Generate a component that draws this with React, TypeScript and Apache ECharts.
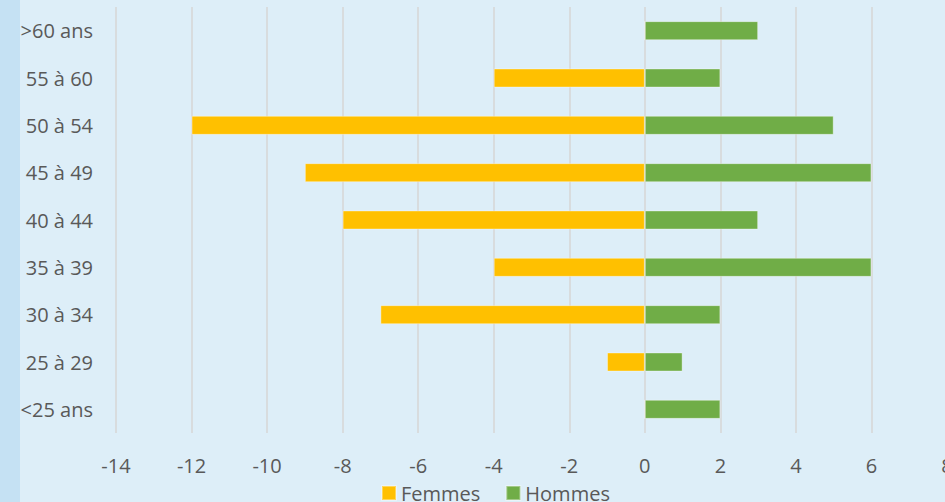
import React, { useEffect, useRef } from "react";
import * as echarts from "echarts";

const categories = [">60 ans", "55 à 60", "50 à 54", "45 à 49", "40 à 44", "35 à 39", "30 à 34", "25 à 29", "<25 ans"];
const femmes = [0, -4, -12, -9, -8, -4, -7, -1, 0];
const hommes = [3, 2, 5, 6, 3, 6, 2, 1, 2];
const xMin = -14;
const xMax = 8;
const xInterval = 2;

const FONT = "'Open Sans', 'Noto Sans', sans-serif";
const TEXT = "#595959";

export default function App() {
  const ref = useRef<HTMLDivElement>(null);
  useEffect(() => {
    document.body.style.margin = "0";
    if (!ref.current) return;
    const chart = echarts.init(ref.current, undefined, { renderer: "svg" });
    chart.setOption({
      animation: false,
      backgroundColor: "#DDEEF8",
      textStyle: { fontFamily: FONT },
      graphic: [
        {
          type: "rect",
          left: 0,
          top: 0,
          shape: { x: 0, y: 0, width: 20, height: 502 },
          style: { fill: "#C5E1F3" },
          z: -1,
        },
      ],
      grid: { left: 116, top: 7, width: 831, height: 426, containLabel: false, outerBoundsMode: "none" },
      legend: {
        data: ["Femmes", "Hommes"],
        left: 381,
        top: 483,
        itemWidth: 14,
        itemHeight: 14,
        itemGap: 25,
        icon: "rect",
        textStyle: { color: TEXT, fontSize: 20, fontFamily: FONT, padding: [0, 0, 0, 0] },
        padding: 0,
      },
      xAxis: {
        type: "value",
        min: xMin,
        max: xMax,
        interval: xInterval,
        axisLine: { show: false },
        axisTick: { show: false },
        axisLabel: { color: TEXT, fontSize: 20, fontFamily: FONT, margin: 22 },
        splitLine: { show: true, lineStyle: { color: "#D6D6D6", width: 1.5 } },
      },
      yAxis: {
        type: "category",
        data: categories,
        inverse: true,
        axisLine: { show: false },
        axisTick: { show: false },
        axisLabel: { color: TEXT, fontSize: 20, fontFamily: FONT, margin: 23 },
        splitLine: { show: false },
      },
      series: [
        {
          name: "Femmes",
          type: "bar",
          data: femmes,
          barWidth: 19,
          barGap: "-100%",
          itemStyle: { color: "#FFC000", borderColor: "rgba(255,255,255,0.35)", borderWidth: 1 },
        },
        {
          name: "Hommes",
          type: "bar",
          data: hommes,
          barWidth: 19,
          barGap: "-100%",
          itemStyle: { color: "#70AD47", borderColor: "rgba(255,255,255,0.35)", borderWidth: 1 },
        },
      ],
    });
    return () => chart.dispose();
  }, []);
  return <div ref={ref} style={{ width: 945, height: 502 }} />;
}
